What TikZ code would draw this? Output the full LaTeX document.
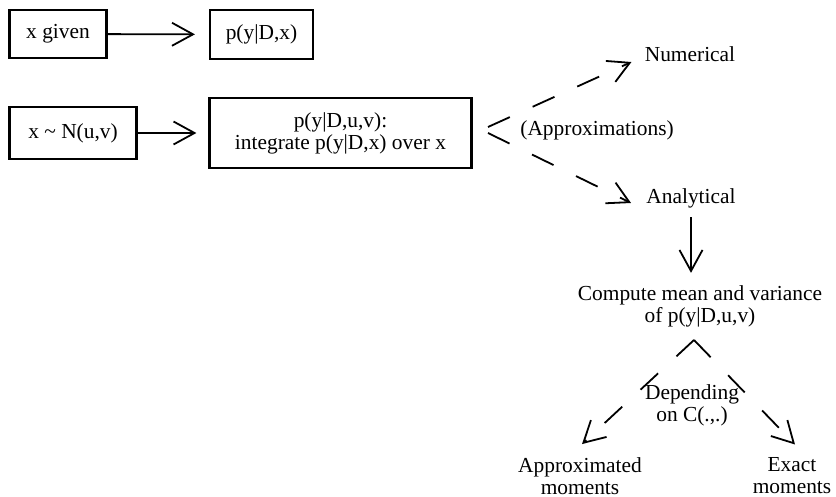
\documentclass[tikz,border=0pt]{standalone}
\usepackage{fontspec}
\setmainfont{Liberation Serif}
\usetikzlibrary{arrows.meta,positioning}

\begin{document}
\begin{tikzpicture}[
  x=0.5pt,
  y=-0.5pt,
  font=\fontsize{10.7}{11}\selectfont,
  box/.style={
    rectangle,
    draw=black,
    line width=1.1pt,
    fill=white,
    text=black,
    align=center,
    inner sep=2pt
  },
  label/.style={
    align=center,
    inner sep=0pt
  },
  arrow/.style={
    -{Straight Barb[length=10.5pt,width=11.5pt]},
    line width=0.9pt,
    draw=black
  },
  dasharrow/.style={
    arrow,
    dash pattern=on 12pt off 12.5pt
  }
]
\useasboundingbox (0,0) rectangle (836,497);

% Given x
\node[box, minimum width=48.5pt, minimum height=24pt] (given) at (58,34) {x given};
\node[box, minimum width=51.5pt, minimum height=24.5pt] (pgx) at (261.5,34.5) {p(y|D,x)};

% Uncertain x
\node[box, minimum width=63.5pt, minimum height=26pt] (xn) at (73,133) {x \char`~\ N(u,v)};
\node[box, minimum width=131pt, minimum height=35pt] (integ) at (340.5,133) {p(y|D,u,v):\\ integrate p(y|D,x) over x};

% Approximations
\node[label, anchor=west] (apr) at (520,130) {(Approximations)};
\node[label] (num) at (690,54) {Numerical};
\node[label] (anl) at (691,198) {Analytical};

% Analytical branch
\node[label] (cmp) at (700,306) {Compute mean and variance\\ of p(y|D,u,v)};
\node[label] (dep) at (692,405) {Depending\\ on C(.,.)};
\node[label] (apx) at (580,476) {Approximated\\ moments};
\node[label] (ex) at (792,476) {Exact\\ moments};
\coordinate (split) at (694,340);

% Arrows from x
\draw[arrow, shorten >=7pt] (given) -- (pgx);
\draw[arrow, shorten >=6pt] (xn) -- (integ);

% Dashed arrows to methods
\draw[dasharrow] ([xshift=-16pt,yshift=1.5pt]apr.west) -- ([xshift=-6.5pt,yshift=-4pt]num.west);
\draw[dasharrow] ([xshift=-16pt,yshift=-1.5pt]apr.west) -- ([xshift=-7.5pt,yshift=-2.5pt]anl.west);

% Analytical to moments
\draw[arrow, shorten <=4.5pt, shorten >=6pt] (anl.south) -- (anl.south |- cmp.north);
\draw[dasharrow] (split) -- ([xshift=1pt,yshift=6.5pt]apx.north);
\draw[dasharrow] (split) -- ([xshift=1.5pt,yshift=6.5pt]ex.north);

\end{tikzpicture}
\end{document}
